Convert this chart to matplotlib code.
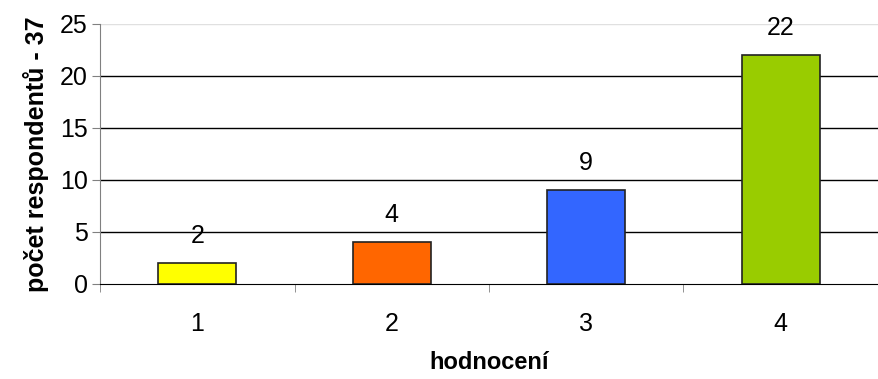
import matplotlib
matplotlib.use("Agg")
import matplotlib.pyplot as plt

plt.rcParams['font.family'] = ['Liberation Sans', 'DejaVu Sans']

categories = ['1', '2', '3', '4']
values = [2, 4, 9, 22]
colors = ['#FFFF00', '#FF6600', '#3366FF', '#99CC00']

fig = plt.figure(figsize=(8.79, 3.79), dpi=100)
ax = fig.add_axes([0.1138, 0.2507, 0.885, 0.686])

x = list(range(len(categories)))
bars = ax.bar(x, values, width=0.4, color=colors, edgecolor='#222222', linewidth=1.2, zorder=3)
for xi, v in zip(x, values):
    ax.annotate(str(v), (xi, v), xytext=(0, 11), textcoords='offset points',
                ha='center', va='bottom', fontsize=18)

ax.set_xlim(-0.5, len(categories) - 0.5)
ax.set_ylim(0, 25)
ax.set_yticks([0, 5, 10, 15, 20, 25])
ax.set_xticks(x)
ax.set_xticklabels(categories)
ax.set_xticks([i + 0.5 for i in range(-1, len(categories))], minor=True)
ax.tick_params(axis='x', which='major', length=0, pad=20, labelsize=18)
ax.tick_params(axis='x', which='minor', length=6, color='#808080', direction='out')
ax.tick_params(axis='y', length=6, color='#808080', labelsize=18, pad=3)

for y in [5, 10, 15, 20]:
    ax.axhline(y, color='black', linewidth=1, zorder=1)
ax.axhline(25, color='#e0e0e0', linewidth=1, zorder=1)

ax.spines['top'].set_visible(False)
ax.spines['right'].set_visible(False)
ax.spines['left'].set_color('#808080')
ax.spines['bottom'].set_color('black')

ax.set_xlabel('hodnocení', fontsize=17, fontweight='bold', labelpad=11)
ax.set_ylabel('počet respondentů - 37', fontsize=18, fontweight='bold', labelpad=8)

fig.savefig('out.png', dpi=100)
